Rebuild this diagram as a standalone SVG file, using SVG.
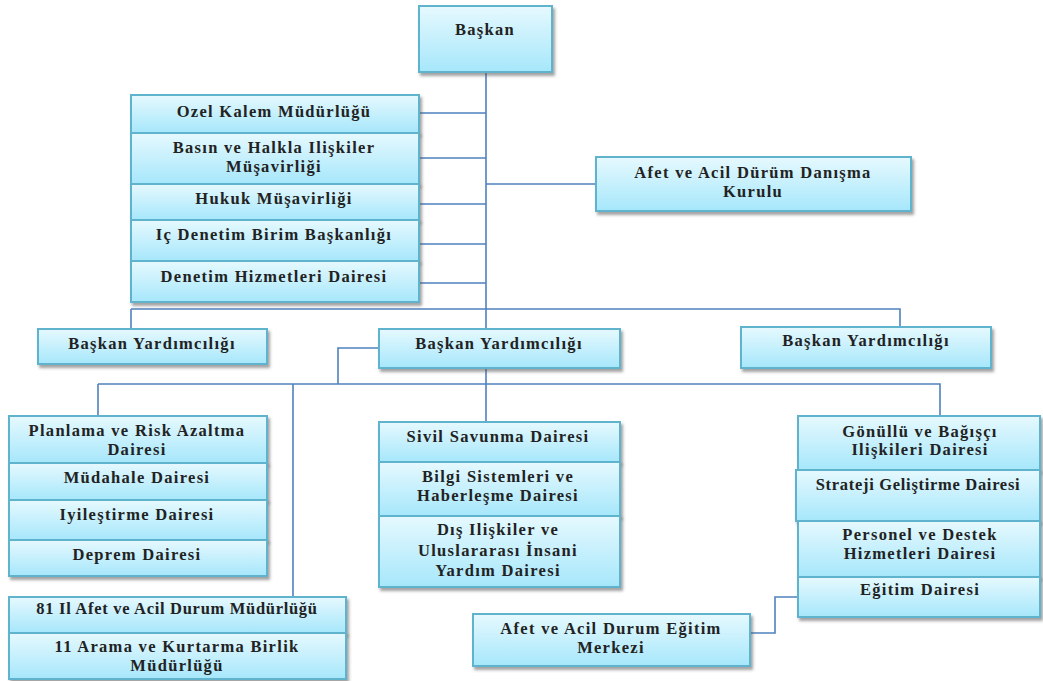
<svg xmlns="http://www.w3.org/2000/svg" width="1043" height="681" viewBox="0 0 1043 681">
<defs>
<linearGradient id="g" x1="0" y1="0" x2="0" y2="1">
<stop offset="0" stop-color="#e6f9fe"/>
<stop offset="1" stop-color="#a6e7fb"/>
</linearGradient>
<filter id="sh" x="-10%" y="-10%" width="125%" height="140%">
<feDropShadow dx="2" dy="3" stdDeviation="1.5" flood-color="#555" flood-opacity="0.55"/>
</filter>
</defs>
<style>
.b{fill:url(#g);stroke:#5fb3cc;stroke-width:2;filter:url(#sh)}
.t{font-family:"Liberation Serif","Times New Roman",serif;font-weight:bold;font-size:16.5px;fill:#222;text-anchor:middle;letter-spacing:1.3px}
.n{letter-spacing:0.7px}
.c{fill:none;stroke:#4f81bd;stroke-width:1.6}
</style>
<rect width="1043" height="681" fill="#fff"/>
<g id="connectors">
<path class="c" d="M486,72 V329 M486,368 V422"/>
<path class="c" d="M419,113 H486 M419,158 H486 M419,204 H486 M417,244 H486 M419,283 H486"/>
<path class="c" d="M486,184 H596"/>
<path class="c" d="M131,309 H900 V327 M131,309 V329"/>
<path class="c" d="M379,348 H338 V384"/>
<path class="c" d="M98,384 H940 V416 M98,384 V416 M293,384 V597"/>
<path class="c" d="M798,597 H775 V633 H750"/>
</g>
<g id="baskan"><rect class="b" x="419" y="6" width="133" height="66"/><text class="t" x="485" y="35">Başkan</text></g>

<g id="ozel-kalem"><rect class="b" x="131" y="95" width="288" height="38"/><text class="t" x="274" y="117">Ozel Kalem Müdürlüğü</text></g>
<g id="basin"><rect class="b" x="131" y="133" width="288" height="51"/><text class="t" x="274" y="153">Basın ve Halkla Ilişkiler</text><text class="t" x="274" y="172">Müşavirliği</text></g>
<g id="hukuk"><rect class="b" x="131" y="184" width="288" height="36"/><text class="t" x="274" y="204">Hukuk Müşavirliği</text></g>
<g id="ic-denetim"><rect class="b" x="131" y="220" width="288" height="41"/><text class="t" x="274" y="240">Iç Denetim Birim Başkanlığı</text></g>
<g id="denetim"><rect class="b" x="131" y="261" width="288" height="41"/><text class="t" x="274" y="282">Denetim Hizmetleri Dairesi</text></g>

<g id="danisma"><rect class="b" x="596" y="157" width="315" height="54"/><text class="t" x="753" y="178">Afet ve Acil Dürüm Danışma</text><text class="t" x="753" y="197">Kurulu</text></g>

<g id="by-left"><rect class="b" x="38" y="329" width="229" height="35"/><text class="t" x="152" y="349">Başkan Yardımcılığı</text></g>
<g id="by-center"><rect class="b" x="379" y="329" width="241" height="39"/><text class="t" x="499" y="349">Başkan Yardımcılığı</text></g>
<g id="by-right"><rect class="b" x="741" y="327" width="250" height="41"/><text class="t" x="866" y="346">Başkan Yardımcılığı</text></g>

<g id="planlama"><rect class="b" x="9" y="416" width="258" height="47"/><text class="t" x="137" y="436">Planlama ve Risk Azaltma</text><text class="t" x="137" y="455">Dairesi</text></g>
<g id="mudahale"><rect class="b" x="9" y="463" width="258" height="37"/><text class="t" x="137" y="483">Müdahale Dairesi</text></g>
<g id="iyilestirme"><rect class="b" x="9" y="500" width="258" height="40"/><text class="t" x="137" y="520">Iyileştirme Dairesi</text></g>
<g id="deprem"><rect class="b" x="9" y="540" width="258" height="36"/><text class="t" x="137" y="560">Deprem Dairesi</text></g>

<g id="il-afet"><rect class="b" x="9" y="597" width="337" height="36"/><text class="t n" x="177" y="614">81 Il Afet ve Acil Durum Müdürlüğü</text></g>
<g id="arama"><rect class="b" x="9" y="633" width="337" height="46"/><text class="t" x="177" y="652">11 Arama ve Kurtarma Birlik</text><text class="t" x="177" y="671">Müdürlüğü</text></g>

<g id="sivil"><rect class="b" x="379" y="422" width="241" height="40"/><text class="t" x="498" y="442">Sivil Savunma Dairesi</text></g>
<g id="bilgi"><rect class="b" x="379" y="462" width="241" height="54"/><text class="t" x="498" y="482">Bilgi Sistemleri ve</text><text class="t" x="498" y="501">Haberleşme Dairesi</text></g>
<g id="dis-iliskiler"><rect class="b" x="379" y="516" width="241" height="71"/><text class="t" x="498" y="535">Dış Ilişkiler ve</text><text class="t" x="498" y="556">Uluslararası İnsani</text><text class="t" x="498" y="576">Yardım Dairesi</text></g>

<g id="gonullu"><rect class="b" x="798" y="416" width="242" height="54"/><text class="t" x="920" y="437">Gönüllü ve Bağışçı</text><text class="t" x="920" y="455">Ilişkileri Dairesi</text></g>
<g id="strateji"><rect class="b" x="796" y="470" width="244" height="51"/><text class="t n" x="918" y="490">Strateji Geliştirme Dairesi</text></g>
<g id="personel"><rect class="b" x="798" y="521" width="242" height="56"/><text class="t" x="920" y="540">Personel ve Destek</text><text class="t" x="920" y="559">Hizmetleri Dairesi</text></g>
<g id="egitim"><rect class="b" x="798" y="577" width="242" height="40"/><text class="t" x="920" y="595">Eğitim Dairesi</text></g>

<g id="egitim-merkezi"><rect class="b" x="473" y="614" width="277" height="52"/><text class="t" x="611" y="634">Afet ve Acil Durum Eğitim</text><text class="t" x="611" y="653">Merkezi</text></g>
</svg>
